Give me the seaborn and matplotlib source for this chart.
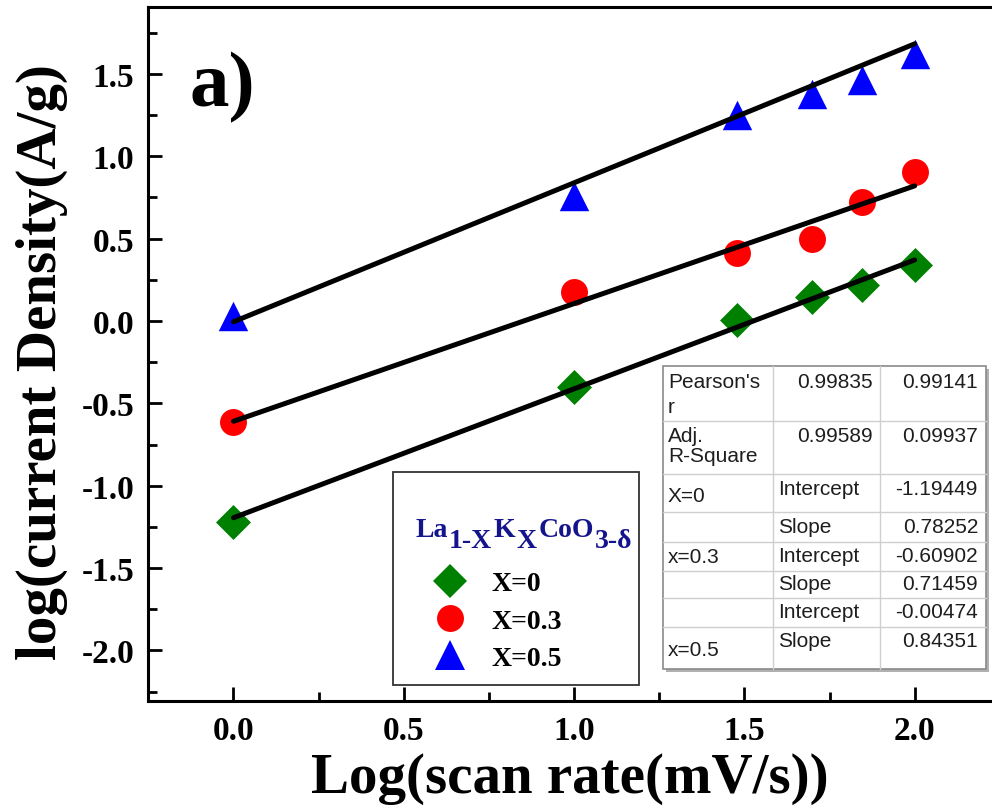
import numpy as np
import pandas as pd
import matplotlib
matplotlib.use("Agg")
import matplotlib.pyplot as plt
from matplotlib.patches import Rectangle
from matplotlib.lines import Line2D
from matplotlib.ticker import MultipleLocator, FormatStrFormatter
import seaborn as sns

# ---- data -------------------------------------------------------------
log_scan_rate = [0.0, 1.0, 1.477, 1.699, 1.845, 2.0]
log_j_x0 = [-1.22, -0.403, 0.006, 0.148, 0.219, 0.34]
log_j_x03 = [-0.615, 0.174, 0.413, 0.498, 0.72, 0.905]
log_j_x05 = [0.03, 0.756, 1.25, 1.38, 1.465, 1.618]

series_labels = ["X=0", "X=0.3", "X=0.5"]
series_colors = ["#008000", "#ff0000", "#0000ff"]
series_markers = ["D", "o", "^"]
series_sizes = [317, 376, 450]

# linear fit results (log j = intercept + slope * log v)
fit_intercepts = [-1.19449, -0.60902, -0.00474]
fit_slopes = [0.78252, 0.71459, 0.84351]
pearson_r = [0.99835, 0.99141]
adj_r_square = [0.99589, 0.09937]

# legend heading La(1-X)K(X)CoO(3-δ): (text, is_subscript)
formula_parts = [("La", False), ("1-X", True), ("K", False), ("X", True),
                 ("CoO", False), ("3-δ", True)]

# ---- style ------------------------------------------------------------
sns.set_theme(style="white")
plt.rcParams["font.family"] = ["Liberation Serif", "DejaVu Sans"]
plt.rcParams["font.weight"] = "bold"
plt.rcParams["text.color"] = "black"
plt.rcParams["axes.labelcolor"] = "black"
plt.rcParams["xtick.color"] = "black"
plt.rcParams["ytick.color"] = "black"
plt.rcParams["axes.unicode_minus"] = False

W, H = 992, 812
fig = plt.figure(figsize=(W / 100, H / 100), dpi=100, facecolor="white")


def fx(p):
    return p / W


def fy(p):
    return 1 - p / H


ax = fig.add_axes([fx(148), fy(702), fx(992) - fx(148), fy(8) - fy(702)])
ax.set_facecolor("white")

df = pd.DataFrame({
    "x": log_scan_rate * 3,
    "y": log_j_x0 + log_j_x03 + log_j_x05,
    "series": [s for s in series_labels for _ in log_scan_rate],
})

for lab, col, mk, sz in zip(series_labels, series_colors, series_markers, series_sizes):
    sub = df[df["series"] == lab]
    sns.scatterplot(data=sub, x="x", y="y", marker=mk, s=sz, color=col,
                    linewidth=0, ax=ax, zorder=3, legend=False)

xfit = np.array([log_scan_rate[0], log_scan_rate[-1]])
for b, m in zip(fit_intercepts, fit_slopes):
    sns.lineplot(x=xfit, y=b + m * xfit, color="black", lw=3.6,
                 solid_capstyle="round", ax=ax, zorder=4, legend=False)

ax.set_xlim(-0.251, 2.227)
ax.set_ylim(-2.307, 1.906)
ax.xaxis.set_major_locator(MultipleLocator(0.5))
ax.xaxis.set_minor_locator(MultipleLocator(0.25))
ax.yaxis.set_major_locator(MultipleLocator(0.5))
ax.yaxis.set_minor_locator(MultipleLocator(0.25))
ax.xaxis.set_major_formatter(FormatStrFormatter("%.1f"))
ax.yaxis.set_major_formatter(FormatStrFormatter("%.1f"))
ax.tick_params(which="both", direction="in", width=2, color="black",
               bottom=True, left=True, top=False, right=False)
ax.tick_params(which="major", length=10, labelsize=24, pad=10, labelcolor="black")
ax.tick_params(which="minor", length=6.5)
for lbl in ax.get_xticklabels() + ax.get_yticklabels():
    lbl.set_fontweight("bold")
for side in ["left", "bottom", "top"]:
    ax.spines[side].set_linewidth(2.2)
    ax.spines[side].set_color("black")
ax.spines["right"].set_visible(False)

ax.set_xlabel("Log(scan rate(mV/s))", fontsize=41, fontweight="bold", color="black")
ax.set_ylabel("log(current Density(A/g)", fontsize=41, fontweight="bold", color="black")
ax.xaxis.set_label_coords(0.5, (702 - 753) / 694)
ax.yaxis.set_label_coords((68 - 148) / 844, 0.49)

fig.text(fx(189), fy(106), "a)", fontsize=57, fontweight="bold",
         ha="left", va="baseline", color="black")

# ---- legend -----------------------------------------------------------
ax.add_patch(Rectangle((fx(393), fy(686)), fx(639) - fx(393), fy(473) - fy(686),
                       transform=fig.transFigure, facecolor="white",
                       edgecolor="#333333", lw=1.3, zorder=5, clip_on=False))
handles = [Line2D([], [], ls="none", marker=mk, color=col, markeredgewidth=0,
                  markersize=np.sqrt(sz))
           for col, mk, sz in zip(series_colors, series_markers, series_sizes)]
leg = ax.legend(handles, series_labels, loc="upper left",
                bbox_to_anchor=(fx(422), fy(572)), bbox_transform=fig.transFigure,
                frameon=False, borderpad=0, borderaxespad=0,
                prop={"size": 20, "weight": "bold"}, handlelength=2.0,
                handletextpad=0.52, labelspacing=0.42)
for t in leg.get_texts():
    t.set_color("black")
leg.set_zorder(6)

# heading of the legend, built piece by piece so the subscripts keep full size
renderer = fig.canvas.get_renderer()
cursor = 415
for txt, is_sub in formula_parts:
    t = fig.text(fx(cursor), fy(548 if is_sub else 537), txt, fontsize=20,
                 fontweight="bold", color="#14148c", ha="left", va="baseline",
                 zorder=7)
    cursor += t.get_window_extent(renderer).width + 1.5

# ---- fit statistics table ---------------------------------------------
tbl_left, tbl_right, tbl_top, tbl_bottom = 663, 986, 367, 670
col_lines = [773, 880]
row_lines = [421.7, 475, 513, 542.7, 571.7, 599, 628]
fig.patches.append(Rectangle((fx(tbl_left + 3), fy(tbl_bottom + 3)),
                             fx(tbl_right) - fx(tbl_left), fy(tbl_top) - fy(tbl_bottom),
                             transform=fig.transFigure, facecolor="#b0b0b0",
                             edgecolor="none", zorder=5))
fig.patches.append(Rectangle((fx(tbl_left), fy(tbl_bottom)),
                             fx(tbl_right) - fx(tbl_left), fy(tbl_top) - fy(tbl_bottom),
                             transform=fig.transFigure, facecolor="white",
                             edgecolor="#8a8a8a", lw=1.2, zorder=5))
for cx in col_lines:
    fig.add_artist(Line2D([fx(cx), fx(cx)], [fy(tbl_top), fy(tbl_bottom)],
                          color="#cfcfcf", lw=1, zorder=6))
for ry in row_lines:
    fig.add_artist(Line2D([fx(tbl_left), fx(tbl_right)], [fy(ry), fy(ry)],
                          color="#cfcfcf", lw=1, zorder=6))

tfont = dict(family=["Liberation Sans", "DejaVu Sans"], fontsize=15,
             fontweight="normal", color="#1e1e1e", va="baseline", zorder=7)
first_col = [("Pearson's", 388), ("r", 413), ("Adj.", 442), ("R-Square", 462),
             ("X=0", 502), ("x=0.3", 563), ("x=0.5", 656)]
for txt, by in first_col:
    fig.text(fx(668), fy(by), txt, ha="left", **tfont)

stat_rows = [(388, pearson_r), (442, adj_r_square)]
for by, vals in stat_rows:
    fig.text(fx(873), fy(by), f"{vals[0]:.5f}", ha="right", **tfont)
    fig.text(fx(978), fy(by), f"{vals[1]:.5f}", ha="right", **tfont)

fit_baselines = [(495, 533), (562, 590), (618, 647)]
for (b_by, m_by), b, m in zip(fit_baselines, fit_intercepts, fit_slopes):
    fig.text(fx(778), fy(b_by), "Intercept", ha="left", **tfont)
    fig.text(fx(978), fy(b_by), f"{b:.5f}", ha="right", **tfont)
    fig.text(fx(778), fy(m_by), "Slope", ha="left", **tfont)
    fig.text(fx(978), fy(m_by), f"{m:.5f}", ha="right", **tfont)

fig.savefig("out.png", dpi=100, facecolor="white")
